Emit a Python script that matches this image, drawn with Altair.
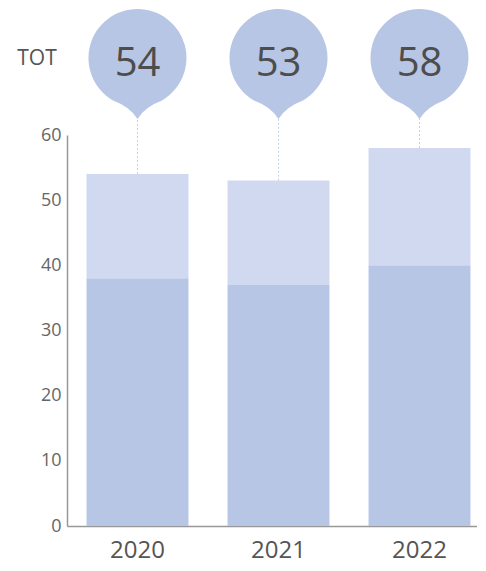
import altair as alt
import pandas as pd

years = ["2020", "2021", "2022"]
base_values = [38, 37, 40]
totals = [54, 53, 58]
row_label = ["TOT"]

df = pd.DataFrame({"year": years, "base": base_values, "total": totals,
                   "zero": [0, 0, 0], "label": [str(t) for t in totals]})
lab = pd.DataFrame({"t": row_label})

FONT = "Open Sans"
TEXT = "#4d4d4d"
DARK = "#b8c6e6"
LIGHT = "#d0d9ef"

BUBBLE_PATH = ("M0,1.245 Q0.14,1.0 0.5,0.866 "
               "A1,1 0 1,0 -0.5,0.866 "
               "Q-0.14,1.0 0,1.245 Z")

x = alt.X("year:N", title=None,
          scale=alt.Scale(paddingInner=0.277, paddingOuter=0.1385),
          axis=alt.Axis(labelAngle=0, ticks=False, domainColor="#999999",
                        domainWidth=1.5, labelFontSize=24, labelColor="#555555",
                        labelPadding=12, labelFont=FONT))
yscale = alt.Scale(domain=[0, 60], nice=False)

base = alt.Chart(df)

lower = base.mark_bar(color=DARK).encode(
    x=x,
    y=alt.Y("zero:Q", scale=yscale, title=None,
            axis=alt.Axis(values=[0, 10, 20, 30, 40, 50, 60], ticks=False,
                          grid=False, domainColor="#999999", domainWidth=1.5,
                          labelFontSize=18, labelColor="#666666",
                          labelPadding=6, labelFont=FONT)),
    y2="base:Q",
)
upper = base.mark_bar(color=LIGHT).encode(x=x, y=alt.Y("base:Q", scale=yscale), y2="total:Q")

stem = base.mark_rule(color="#c3cdea", strokeDash=[2, 2], strokeWidth=1).encode(
    x=x, y=alt.Y("total:Q", scale=yscale), y2=alt.value(-16))

bubble = base.mark_point(shape=BUBBLE_PATH, filled=True, opacity=1,
                         color=DARK, size=9604, strokeWidth=0).encode(
    x=x, y=alt.value(-77))

nums = base.mark_text(font=FONT, fontSize=40, color=TEXT, baseline="middle",
                      align="center").encode(
    x=x, y=alt.value(-71), text="label:N")

tot = alt.Chart(lab).mark_text(font=FONT, fontSize=21, color="#555555",
                               baseline="middle", align="center").encode(
    x=alt.value(-30), y=alt.value(-76), text="t:N")

chart = alt.layer(lower, upper, stem, bubble, nums, tot).properties(
    width=423, height=391,
    autosize=alt.AutoSizeParams(type="none"),
    padding={"left": 59, "top": 127, "right": -13, "bottom": 37},
).configure_view(stroke=None)

chart.save("out.html", embed_options={"renderer": "svg", "actions": False})
